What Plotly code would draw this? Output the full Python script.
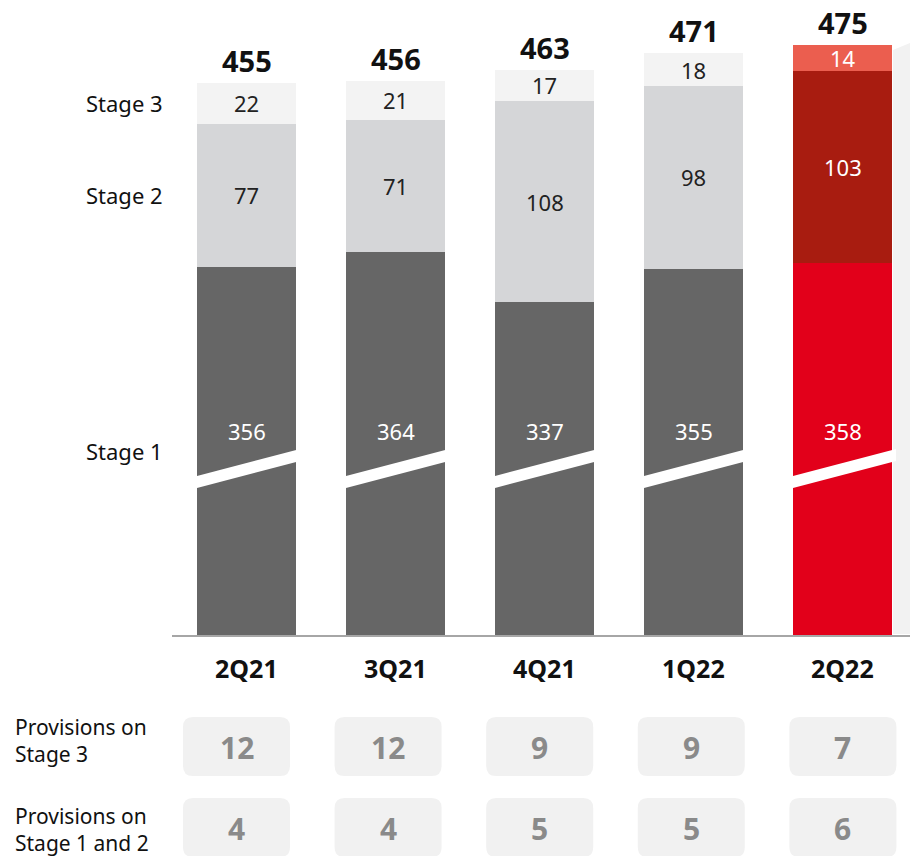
import plotly.graph_objects as go

# ---- data ----
quarters = ["2Q21", "3Q21", "4Q21", "1Q22", "2Q22"]
stage1 = [356, 364, 337, 355, 358]
stage2 = [77, 71, 108, 98, 103]
stage3 = [22, 21, 17, 18, 14]
totals = [455, 456, 463, 471, 475]
prov_stage3 = [12, 12, 9, 9, 7]
prov_stage12 = [4, 4, 5, 5, 6]
stage_names = ["Stage 1", "Stage 2", "Stage 3"]
row_names = ["Provisions on<br>Stage 3", "Provisions on<br>Stage 1 and 2"]

# the stage 1 segment is drawn on a broken axis: this amount is cut out of it
AXIS_BREAK = 158

# ---- styling ----
FONT = "Noto Sans"
GREY = {"s1": "#666666", "s2": "#D5D6D8", "s3": "#F3F3F3"}
RED = {"s1": "#E2001A", "s2": "#A81C10", "s3": "#EB5E4F"}
HIGHLIGHT = len(quarters) - 1

W, H = 910, 856
PX_PER_X = 149.0          # pixels per category step
PX_PER_Y = 1.86           # pixels per value unit
X0_PX = 246.5             # pixel centre of the first category
Y0_PX = 635.0             # pixel row of the baseline
XMIN = -X0_PX / PX_PER_X
XMAX = (W - X0_PX) / PX_PER_X
YMAX = Y0_PX / PX_PER_Y
YMIN = -(H - Y0_PX) / PX_PER_Y
BAR_W = 99 / PX_PER_X


def px_x(p):
    return XMIN + p / PX_PER_X


def px_y(p):
    return (Y0_PX - p) / PX_PER_Y


def colours(key):
    return [RED[key] if i == HIGHLIGHT else GREY[key] for i in range(len(quarters))]


xs = list(range(len(quarters)))
s1_drawn = [v - AXIS_BREAK for v in stage1]

fig = go.Figure()
for vals, key in ((s1_drawn, "s1"), (stage2, "s2"), (stage3, "s3")):
    fig.add_trace(go.Bar(x=xs, y=vals, width=BAR_W, marker=dict(color=colours(key), line_width=0),
                         hoverinfo="skip", showlegend=False))

annotations = []
shapes = []

# pale panel behind the latest quarter's right edge
shapes.append(dict(type="path", layer="below", line_width=0, fillcolor="#F2F2F2",
                   path=f"M {px_x(893)},{px_y(50)} L {px_x(910)},{px_y(43)} L {px_x(910)},{px_y(634)} "
                        f"L {px_x(893)},{px_y(634)} Z"))

# baseline
shapes.append(dict(type="line", layer="below", x0=px_x(172), x1=px_x(910), y0=px_y(636), y1=px_y(636),
                   line=dict(color="#A6A6A6", width=2)))

# axis-break slash across every stage 1 segment
for i in xs:
    xl = i - BAR_W / 2
    xr = i + BAR_W / 2 + 4 / PX_PER_X
    slope = 26 / 99
    yl_top, yl_bot = 476, 488
    yr_top = yl_top - slope * 103
    yr_bot = yl_bot - slope * 103
    shapes.append(dict(type="path", layer="above", line_width=0, fillcolor="white",
                       path=f"M {xl},{px_y(yl_top)} L {xr},{px_y(yr_top)} L {xr},{px_y(yr_bot)} "
                            f"L {xl},{px_y(yl_bot)} Z"))

STAGE1_LABEL_Y = px_y(431)
for i in xs:
    hl = i == HIGHLIGHT
    s1_top = s1_drawn[i]
    s2_top = s1_top + stage2[i]
    s3_top = s2_top + stage3[i]
    # segment labels
    annotations.append(dict(x=i, y=STAGE1_LABEL_Y, text=str(stage1[i]), showarrow=False,
                            font=dict(family=FONT, size=22, color="white")))
    annotations.append(dict(x=i, y=(s1_top + s2_top) / 2, text=str(stage2[i]), showarrow=False,
                            font=dict(family=FONT, size=22, color="white" if hl else "#222222")))
    annotations.append(dict(x=i, y=(s2_top + s3_top) / 2, text=str(stage3[i]), showarrow=False,
                            font=dict(family=FONT, size=22, color="white" if hl else "#222222")))
    # total above the bar
    annotations.append(dict(x=i, y=s3_top, yanchor="bottom", yshift=1, text=f"<b>{totals[i]}</b>",
                            showarrow=False, font=dict(family=FONT, size=29, color="#111111")))
    # category label
    annotations.append(dict(x=i, y=px_y(668), text=f"<b>{quarters[i]}</b>", showarrow=False,
                            font=dict(family=FONT, size=25, color="#111111")))

# stage labels on the left, aligned with the first bar's segments
first_s1 = s1_drawn[0]
first_s2 = first_s1 + stage2[0]
first_s3 = first_s2 + stage3[0]
stage_label_y = [first_s1 / 2, (first_s1 + first_s2) / 2, (first_s2 + first_s3) / 2]
for name, yv in zip(stage_names, stage_label_y):
    annotations.append(dict(x=px_x(165), y=yv, xanchor="right", text=name, showarrow=False,
                            font=dict(family=FONT, size=22, color="#111111")))

# provisions table below the chart
BOX_X0, BOX_STEP, BOX_W = 236.5, 151.6, 107
ROWS = [(717, 776, prov_stage3, 740.5), (798, 857, prov_stage12, 829.5)]
R = 10
for (top, bot, vals, label_y), rname in zip(ROWS, row_names):
    annotations.append(dict(x=px_x(13), y=px_y(label_y), xanchor="left", align="left",
                            text=rname, showarrow=False,
                            font=dict(family=FONT, size=21, color="#111111")))
    for i, v in enumerate(vals):
        cx = BOX_X0 + BOX_STEP * i
        l, r = cx - BOX_W / 2, cx + BOX_W / 2
        path = (f"M {px_x(l + R)},{px_y(top)} L {px_x(r - R)},{px_y(top)} "
                f"Q {px_x(r)},{px_y(top)} {px_x(r)},{px_y(top + R)} "
                f"L {px_x(r)},{px_y(bot - R)} Q {px_x(r)},{px_y(bot)} {px_x(r - R)},{px_y(bot)} "
                f"L {px_x(l + R)},{px_y(bot)} Q {px_x(l)},{px_y(bot)} {px_x(l)},{px_y(bot - R)} "
                f"L {px_x(l)},{px_y(top + R)} Q {px_x(l)},{px_y(top)} {px_x(l + R)},{px_y(top)} Z")
        shapes.append(dict(type="path", layer="below", line_width=0, fillcolor="#F1F1F1", path=path))
        annotations.append(dict(x=px_x(cx), y=px_y((top + bot) / 2 + 1), text=f"<b>{v}</b>",
                                showarrow=False, font=dict(family=FONT, size=30, color="#8A8A8A")))

fig.update_layout(
    width=W, height=H,
    margin=dict(l=0, r=0, t=0, b=0),
    paper_bgcolor="white", plot_bgcolor="white",
    barmode="stack", bargap=0,
    xaxis=dict(range=[XMIN, XMAX], visible=False, fixedrange=True),
    yaxis=dict(range=[YMIN, YMAX], visible=False, fixedrange=True),
    shapes=shapes, annotations=annotations,
)

fig.write_html("out.html")
